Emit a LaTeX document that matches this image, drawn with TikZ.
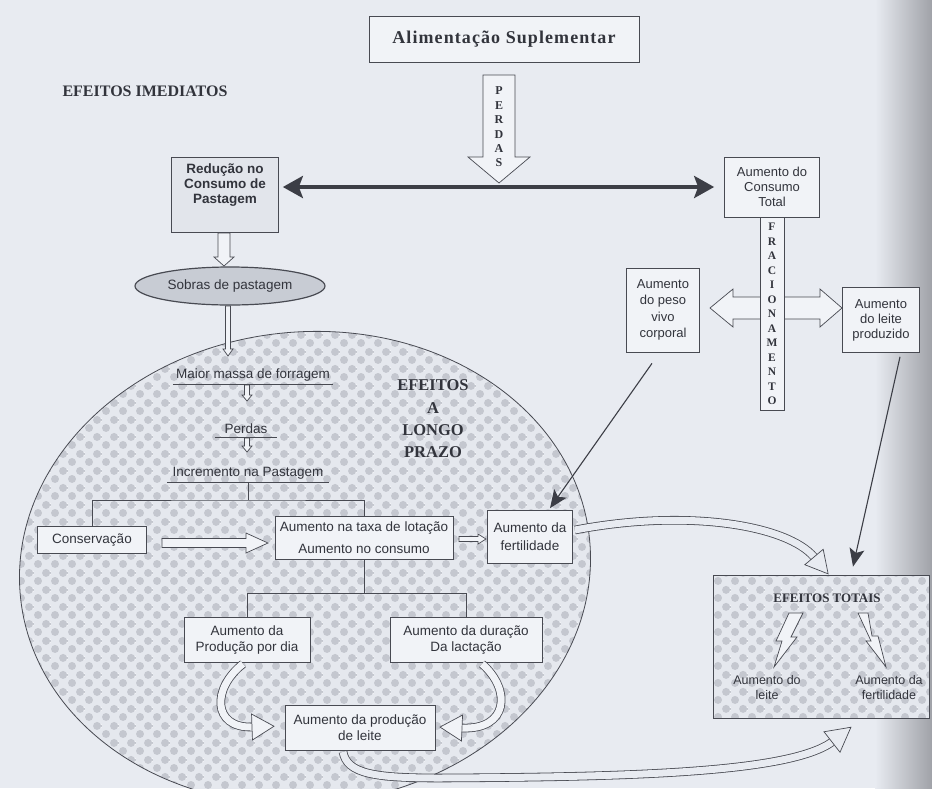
\documentclass[tikz,border=0pt]{standalone}
\usepackage{fontspec}
\setmainfont{Liberation Serif}
\newfontfamily\sansf{Liberation Sans}
\newfontfamily\titleserif[LetterSpace=6]{Liberation Serif}
\usetikzlibrary{arrows.meta,shapes.geometric,patterns.meta,calc}

\definecolor{bg}{RGB}{232,235,241}
\definecolor{ink}{RGB}{72,74,82}
\definecolor{txt}{RGB}{50,52,60}
\definecolor{boxfill}{RGB}{241,243,247}
\definecolor{ellfill}{RGB}{229,232,238}
\definecolor{dotc}{RGB}{196,199,207}
\definecolor{sobfill}{RGB}{200,204,212}
\definecolor{redfill}{RGB}{226,229,235}
\definecolor{thk}{RGB}{60,62,70}
\definecolor{shadow}{RGB}{160,162,168}

\newcommand\boxfnt{\sansf\fontsize{13.5}{16}\selectfont}
\newcommand\boxfntb{\sansf\bfseries\fontsize{13.5}{15}\selectfont}
\newcommand\smallfnt{\sansf\fontsize{12.5}{15}\selectfont}

\tikzdeclarepattern{
  name=chk, type=colored,
  bounding box={(0pt,0pt) and (17pt,17pt)},
  tile size={(17pt,17pt)},
  code={\fill[dotc] (4.25pt,4.25pt) circle (4.2pt); \fill[dotc] (12.75pt,12.75pt) circle (4.2pt);}
}

% vertical hollow arrow pointing down: x, ytop, ytip, halfshaft, halfhead, headlen, fill
\newcommand\vharrow[7]{%
  \draw[hol,fill=#7] (#1-#4,#2) -- (#1+#4,#2) -- (#1+#4,#3-#6) -- (#1+#5,#3-#6) -- (#1,#3)
    -- (#1-#5,#3-#6) -- (#1-#4,#3-#6) -- cycle;}
% horizontal hollow arrow: xstart, xtip, y, halfshaft, halfhead, headlen, fill
\newcommand\hharrow[7]{%
  \draw[hol,fill=#7] (#1,#3-#4) -- (#2-#6,#3-#4) -- (#2-#6,#3-#5) -- (#2,#3) -- (#2-#6,#3+#5)
    -- (#2-#6,#3+#4) -- (#1,#3+#4) -- cycle;}
% hollow head at the end of a tube: base, angle, length, halfwidth, fill
\newcommand\tubehead[5]{%
  \begin{scope}[shift={#1}, rotate={-1*(#2)}]
    \draw[hol, fill=#5] (0,-#4) -- (#3,0) -- (0,#4) -- cycle;
  \end{scope}}

\begin{document}
\begin{tikzpicture}[x=1pt,y=-1pt,
  box/.style={draw=ink, line width=0.7pt, fill=boxfill, align=center, text=txt, font=\boxfnt, inner sep=2pt},
  utext/.style={font=\boxfnt, text=txt, inner sep=3pt, anchor=south},
  ln/.style={draw=ink, line width=0.7pt},
  hol/.style={draw=ink, line width=0.7pt},
  tube/.style={draw=ink, line width=0.8pt, double=#1, double distance=7pt},
  thin arrow/.style={draw=thk, line width=1.1pt, -{Stealth[length=18pt,width=15pt,inset=4pt]}},
]
\useasboundingbox (0,0) rectangle (932,788);
\fill[bg] (0,0) rectangle (932,788);
\shade[left color=bg, right color=shadow] (875,0) rectangle (932,788);

% big ellipse (long-term effects)
\begin{scope}[rotate around={6:(305,568)}]
  \draw[ink, line width=0.8pt, pattern=chk, preaction={fill=ellfill}] (305,568) ellipse [x radius=286, y radius=236];
\end{scope}

% title and headings
\node[draw=ink, line width=0.8pt, fill=boxfill, minimum width=270pt, minimum height=46pt,
      font=\titleserif\bfseries\fontsize{18}{20}\selectfont, text=txt] (alim) at (504,39) {Alimentação Suplementar};
\node[font=\bfseries\fontsize{16}{19}\selectfont, text=txt] (imed) at (145,91) {EFEITOS IMEDIATOS};

% PERDAS arrow
\vharrow{499}{75}{183}{16}{31}{26}{boxfill}
\node[font=\bfseries\fontsize{12}{14.4}\selectfont, text=txt, align=center, inner sep=0pt] (perdasl) at (499,127) {P\\E\\R\\D\\A\\S};

% immediate effects
\node[box, font=\boxfntb, fill=redfill, minimum width=107pt, minimum height=75pt] (reducao) at (225,195)
  {Redução no\\Consumo de\\Pastagem\\[8pt]\mbox{}};
\node[box, minimum width=95pt, minimum height=60pt, font=\sansf\fontsize{13}{15}\selectfont] (consumo) at (772,187)
  {Aumento do\\Consumo\\Total};
\draw[line width=4pt, thk, {Stealth[length=20pt,width=22pt,inset=4pt]}-{Stealth[length=20pt,width=22pt,inset=4pt]},
      shorten <=4pt, shorten >=10pt] (reducao.east |- consumo.west) -- (consumo.west);

\node[ellipse, draw=ink, line width=1.2pt, fill=sobfill, minimum width=190pt, minimum height=38pt,
      font=\boxfnt, text=txt] (sobras) at (230,286) {Sobras de pastagem};
\vharrow{224}{233}{266}{6}{10}{9}{boxfill}
\vharrow{228}{306}{356}{2.5}{5}{7}{boxfill}

% long-term effects
\node[font=\bfseries\fontsize{16.5}{22.3}\selectfont, text=txt, align=center] (longo) at (433,419)
  {EFEITOS\\A\\LONGO\\PRAZO};

\node[utext, minimum width=160pt] (maior) at (253,384) {Maior massa de forragem};
\draw[ln] (maior.south west) -- (maior.south east);
\vharrow{247}{385}{401}{2.5}{5}{6}{boxfill}
\node[utext, minimum width=62pt] (perd) at (246,437) {Perdas};
\draw[ln] (perd.south west) -- (perd.south east);
\vharrow{247}{438}{452}{2.5}{5}{6}{boxfill}
\node[utext, minimum width=162pt] (incr) at (248,482) {Incremento na Pastagem};
\draw[ln] (incr.south west) -- (incr.south east);

\node[box, minimum width=109pt, minimum height=27pt] (cons) at (92,540) {Conservação};
\node[box, minimum width=178pt, minimum height=43pt, font=\sansf\fontsize{13.5}{22}\selectfont] (taxa) at (364,538)
  {Aumento na taxa de lotação\\Aumento no consumo};
\node[box, minimum width=85pt, minimum height=53pt, font=\sansf\fontsize{13.5}{18}\selectfont] (fert) at (530,537)
  {Aumento da\\fertilidade};

\coordinate (tj) at ([shift={(0,18)}]incr.south);
\draw[ln] (incr.south) -- (tj);
\draw[ln] (cons.north) |- (tj) -| (taxa.north);

\hharrow{162}{268}{543}{4.5}{10}{22}{boxfill}
\hharrow{459}{486}{539}{2.5}{5}{8}{boxfill}

\node[box, minimum width=126pt, minimum height=45pt] (prod) at (247,640) {Aumento da\\Produção por dia};
\node[box, minimum width=152pt, minimum height=45pt] (dur) at (466,640) {Aumento da duração\\Da lactação};
\node[box, minimum width=150pt, minimum height=45pt] (leite) at (360,728) {Aumento da produção\\de leite};

\coordinate (tj2) at ([shift={(0,33)}]taxa.south);
\draw[ln] (taxa.south) -- (tj2);
\draw[ln] (prod.north) |- (tj2) -| (dur.north);

\draw[tube=boxfill] ([shift={(-4,1)}]prod.south) .. controls (212,688) and (212,728) .. (252,727);
\tubehead{(252,727)}{-2}{22}{13}{boxfill}
\draw[tube=boxfill] ([shift={(16,1)}]dur.south) .. controls (512,690) and (508,730) .. (462,728);
\tubehead{(462,728)}{182.5}{22}{13}{boxfill}

% right side
\draw[hol, fill=boxfill] (710,308) -- (733,289) -- (733,297) -- (820,297) -- (820,289) -- (842,308)
  -- (820,327) -- (820,319) -- (733,319) -- (733,327) -- cycle;
\node[draw=ink, line width=0.7pt, fill=boxfill, minimum width=24pt, minimum height=193pt, anchor=north,
      inner sep=0pt, align=center, font=\bfseries\fontsize{11.5}{14.5}\selectfont, text=txt] (frac)
  at (consumo.south) {F\\R\\A\\C\\I\\O\\N\\A\\M\\E\\N\\T\\O};
\node[box, minimum width=73pt, minimum height=84pt, font=\sansf\fontsize{13}{16.5}\selectfont] (peso) at (663,310)
  {Aumento\\do peso\\vivo\\corporal};
\node[box, minimum width=77pt, minimum height=65pt, font=\sansf\fontsize{13}{15}\selectfont] (leiteprod) at (881,320)
  {Aumento\\do leite\\produzido};

% total effects
\node[draw=ink, line width=0.8pt, pattern=chk, preaction={fill=ellfill}, minimum width=216pt, minimum height=143pt]
  (totais) at (821,646.5) {};
\node[font=\bfseries\fontsize{13}{15}\selectfont, text=txt] (tot) at (827,598) {EFEITOS TOTAIS};
\draw[hol, fill=boxfill] (789,613) -- (803,613) -- (791,637) -- (797,637) -- (774,667) -- (782,641) -- (776,641) -- cycle;
\draw[hol, fill=boxfill] (858,613) -- (868,613) -- (872,636) -- (878,636) -- (886,667) -- (866,641) -- (871,641) -- cycle;
\node[font=\smallfnt, text=txt, align=center] (tl) at (767,688) {Aumento do\\leite};
\node[font=\smallfnt, text=txt, align=center] (tf) at (889,688) {Aumento da\\fertilidade};

% long connectors
\draw[tube=bg] ([shift={(2,-7)}]fert.east) .. controls (690,508) and (788,526) .. (814,557);
\tubehead{(814,557)}{50}{22}{12}{bg}
\draw[tube=bg] ([shift={(-17,1)}]leite.south) .. controls (347,774) and (375,778) .. (440,778)
  .. controls (640,777) and (790,772) .. (832,742);
\tubehead{(832,742)}{-38}{24}{13}{bg}

\draw[thin arrow] ([shift={(-11,11)}]peso.south) -- ([shift={(20,-2)}]fert.north);
\draw[thin arrow] ([shift={(19,4)}]leiteprod.south) -- ([shift={(32,-8)}]totais.north);
\end{tikzpicture}
\end{document}
